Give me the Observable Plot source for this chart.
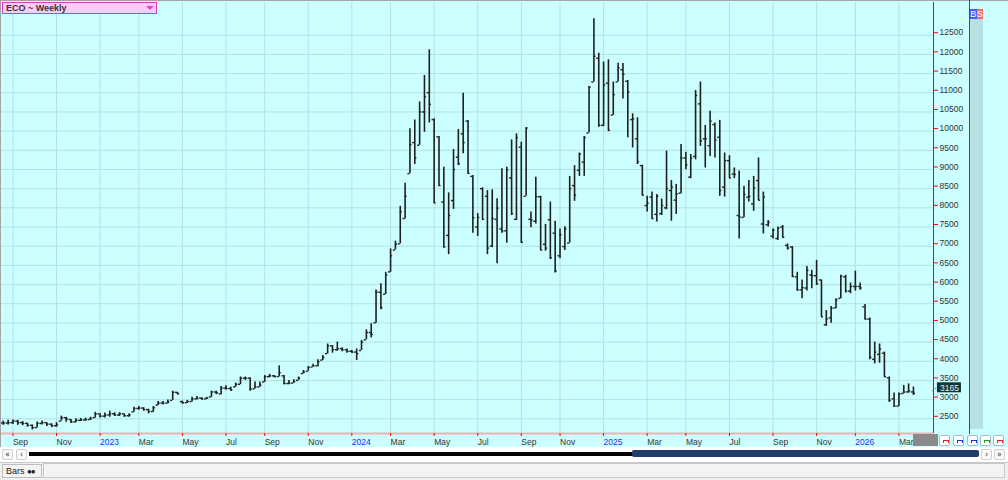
<!DOCTYPE html>
<html><head><meta charset="utf-8">
<script src="https://cdn.jsdelivr.net/npm/d3@7"></script>
<script src="https://cdn.jsdelivr.net/npm/@observablehq/plot@0.6"></script>
<style>
html,body{margin:0;padding:0;background:#fff;}
#root{position:relative;width:1008px;height:480px;overflow:hidden;font-family:"Liberation Sans",Arial,sans-serif;}
#chart{position:absolute;left:0;top:0;width:1008px;height:447px;}
.abs{position:absolute;box-sizing:border-box;}
#topb{left:0;top:0;width:1008px;height:1px;background:#a4a4a4;}
#leftb{left:0;top:0;width:1px;height:447px;background:#a4a4a4;}
#title{left:2px;top:2px;width:155px;height:12px;background:#f5cef8;border:1px solid #c844c8;font:bold 9px "Liberation Sans",Arial,sans-serif;color:#333;line-height:10px;padding-left:3px;}
#tri{right:2px;top:3px;width:0;height:0;border-left:4px solid transparent;border-right:4px solid transparent;border-top:4px solid #e040e0;}
#rline2{left:969px;top:0;width:1px;height:434px;background:#ff0000;}
#strip{left:970px;top:19px;width:13px;height:410px;background:#b8e2e2;}
#bs{left:970px;top:9px;height:10px;font:9px "Liberation Sans",Arial,sans-serif;line-height:10px;color:#fff;display:flex;}
#bs span{display:block;width:6.5px;text-align:center;}
#graybox{left:913px;top:434px;width:25px;height:12px;background:#8a8a8a;}
.icon{top:435px;width:11px;height:11px;background:#fff;border:1px solid #a9b9c9;border-radius:2px;}
.icon i{position:absolute;left:3px;top:4px;width:4px;height:2px;border:1px solid;border-bottom:none;}
#scroll{left:0;top:447px;width:1008px;height:15px;background:#fff;}
.sbtn{top:449px;width:11px;height:11px;border:1px solid #cfcfcf;border-radius:2px;background:#fafafa;font:8px "DejaVu Sans",sans-serif;line-height:9px;text-align:center;color:#333;}
#blk{left:29px;top:452px;width:604px;height:4px;background:#000;}
#blu{left:632px;top:450px;width:347px;height:7px;background:#1f3d6b;border-radius:2px;}
#status{left:0;top:462px;width:1008px;height:18px;background:#f0f0f0;border-top:1px solid #c8c8c8;}
#barsbox{left:2px;top:464px;width:40px;height:14px;border:1px solid #bdbdbd;background:#f4f4f4;font:9px "Liberation Sans",Arial,sans-serif;line-height:12px;padding-left:3px;color:#222;}
#field{left:43px;top:463px;width:962px;height:15px;border:1px solid #c8c8c8;background:#f3f3f3;}
</style></head>
<body>
<div id="root">
  <div id="chart"></div>
  <div class="abs" id="topb"></div>
  <div class="abs" id="leftb"></div>
  <div class="abs" id="title">ECO ~ Weekly<div class="abs" id="tri"></div></div>
  <div class="abs" id="rline2"></div>
  <div class="abs" id="strip"></div>
  <div class="abs" id="bs"><span style="background:#4a5cff">B</span><span style="background:#ee6a6a">S</span></div>
  <div class="abs" id="graybox"></div>
  <div class="abs icon" style="left:939px"><i style="color:#e02020"></i></div>
  <div class="abs icon" style="left:953px"><i style="color:#2030e0"></i></div>
  <div class="abs icon" style="left:967px"><i style="color:#2030e0"></i></div>
  <div class="abs icon" style="left:980px"><i style="color:#20a020"></i></div>
  <div class="abs icon" style="left:993px"><i style="color:#e02020"></i></div>
  <div class="abs" id="scroll"></div>
  <div class="abs sbtn" style="left:2px">&laquo;</div>
  <div class="abs sbtn" style="left:16px">&lsaquo;</div>
  <div class="abs" id="blk"></div>
  <div class="abs" id="blu"></div>
  <div class="abs sbtn" style="left:981px">&rsaquo;</div>
  <div class="abs sbtn" style="left:994px">&raquo;</div>
  <div class="abs" id="status"></div>
  <div class="abs" id="barsbox">Bars <span style="font-size:8px;letter-spacing:-1px">&#9679;&#9679;</span></div>
  <div class="abs" id="field"></div>
</div>
<script>
// Weekly bars, first week ending 2022-08-19
const firstWeek = "2022-08-19";
const openP = [2390,2390,2400,2440,2400,2380,2330,2270,2380,2400,2360,2320,2440,2530,2480,2420,2460,2470,2480,2530,
2630,2570,2600,2630,2600,2630,2580,2680,2770,2780,2740,2690,2860,2910,2910,2980,3190,2950,2920,2950,
3020,3040,3020,3070,3200,3150,3300,3290,3330,3400,3560,3560,3280,3330,3460,3600,3620,3600,3620,3420,
3430,3500,3680,3740,3850,3880,4030,4200,4400,4300,4330,4300,4260,4240,4280,4560,4750,5000,5800,5750,
6330,6900,7060,7720,8890,9700,9630,10500,11000,10300,9850,8150,7280,8190,9320,9930,10260,8820,7500,8500,
8300,7000,7700,7450,7400,8780,7700,9580,8300,7700,7650,8290,7050,7690,7340,6750,6990,7080,8580,8980,
9190,9950,11280,11900,10150,11250,10420,11280,11600,11300,10300,9800,9100,8060,8280,7830,7850,8000,8450,8200,
8380,9300,8800,9340,10710,9800,9620,10170,9840,8540,9230,8880,7800,7750,8280,8100,8710,7580,7560,7260,
7200,7500,7020,6980,6200,5860,5910,6250,6230,6120,4950,5130,5390,5640,6200,5830,5950,5950,5420,5100,
4050,4180,4210,3570,3020,2830,3160,3200,3200];
const highP = [2440,2460,2470,2460,2430,2390,2340,2420,2440,2400,2370,2400,2570,2540,2480,2500,2510,2520,2540,2670,
2630,2650,2700,2660,2660,2630,2630,2800,2820,2790,2750,2820,2950,2950,2990,3220,3190,2960,2980,3060,
3080,3050,3060,3220,3220,3340,3360,3320,3430,3590,3590,3570,3460,3460,3630,3660,3630,3880,3630,3500,
3520,3590,3760,3860,3920,4040,4150,4450,4410,4500,4350,4320,4280,4320,4540,4820,4980,5860,6020,6320,
6930,7130,8040,8640,10060,10290,10760,11450,12120,10320,9860,9060,8390,9520,10040,10990,10280,8840,7850,8520,
8450,8470,8240,9020,9060,9770,9930,9710,10090,7890,8800,8300,7570,8150,7650,7450,7510,8820,9100,9430,
9860,11160,12930,12030,11800,11860,11280,11770,11760,11320,10450,10350,9110,8300,8410,8350,8230,9480,8710,8610,
9650,9450,9390,11060,11280,10150,10520,10210,10280,9430,9360,9040,8960,8560,8710,8820,9300,8410,7670,7450,
7500,7540,7060,6990,6320,6120,6470,6370,6630,6120,5320,5430,5630,6240,6240,6040,6350,6040,5480,5130,
4500,4450,4240,3590,3170,3170,3370,3410,3330];
const lowP = [2330,2340,2350,2330,2320,2280,2210,2260,2340,2300,2270,2280,2440,2410,2380,2400,2430,2440,2460,2520,
2520,2520,2540,2560,2560,2540,2540,2670,2720,2700,2630,2670,2850,2860,2890,2980,3130,2880,2900,2940,
2990,2990,3010,3060,3130,3130,3250,3220,3320,3390,3500,3220,3280,3320,3450,3570,3570,3590,3390,3390,
3430,3500,3670,3740,3850,3860,4020,4190,4210,4260,4250,4210,4210,4020,4280,4560,4610,4990,5340,5740,
6320,6900,7060,7710,8890,9130,9630,9970,10210,8120,8560,6960,6780,7960,9100,9410,8890,7340,7250,7690,
6780,6960,6540,7340,7080,7800,7670,7080,8300,7480,7580,6890,6870,6650,6300,6670,6890,7080,8170,8820,
8820,9950,11280,10100,10120,10000,10410,11280,10840,9830,9560,9130,8320,7890,7710,7630,7800,7950,7650,7830,
8370,8990,8760,9250,9600,9040,9340,9300,8300,8280,8760,8760,7190,7740,8150,7910,8190,7320,7500,7190,
7150,7220,6900,6190,5830,5630,5830,5890,5980,5150,4910,4990,5370,5630,5780,5760,5830,5850,5080,4040,
3930,3950,3590,2930,2800,2820,3150,3170,3110];
const closeP = [2390,2400,2440,2400,2380,2330,2270,2380,2400,2360,2320,2350,2530,2500,2420,2460,2470,2480,2510,2630,
2570,2600,2630,2600,2630,2580,2600,2770,2780,2740,2690,2790,2910,2910,2940,3190,3150,2920,2950,3020,
3040,3020,3040,3200,3180,3300,3290,3250,3400,3560,3560,3280,3330,3380,3600,3620,3600,3700,3420,3430,
3470,3560,3720,3840,3880,3990,4100,4400,4300,4330,4300,4260,4240,4200,4500,4750,4700,5800,5400,6250,
6750,7050,7900,8300,9650,9300,10500,10900,10700,8130,8580,6980,7800,9000,9150,9700,8900,7740,7750,7700,
6950,7720,7990,7400,8990,7850,9830,7100,10080,7680,8290,6900,6950,6700,6350,7300,7450,8500,8330,9400,
9830,11150,11950,10150,11200,10020,10950,11650,11480,11020,10320,9200,8330,8120,7720,8300,8060,8500,8540,8360,
9300,9120,9300,10930,9750,9800,10260,9770,8450,9230,8780,8870,7760,8350,8300,8520,8200,8280,7620,7420,
7470,7230,6950,6210,5860,5920,6370,6230,6020,5160,5100,5380,5600,6220,5830,5950,5950,5910,5100,4100,
4240,4320,3600,2980,2830,3150,3200,3230,3165];
const yTicks = [2500,3000,3500,4000,4500,5000,5500,6000,6500,7000,7500,8000,8500,9000,9500,10000,10500,11000,11500,12000,12500];
const xTickMonths = ["2022-09","2022-11","2023-01","2023-03","2023-05","2023-07","2023-09","2023-11",
"2024-01","2024-03","2024-05","2024-07","2024-09","2024-11","2025-01","2025-03","2025-05","2025-07","2025-09","2025-11","2026-01","2026-03"];
const monthAbbr = ["Jan","Feb","Mar","Apr","May","Jun","Jul","Aug","Sep","Oct","Nov","Dec"];

const start = new Date(firstWeek + "T00:00:00Z");
const bars = closeP.map((c, i) => ({date: d3.utcDay.offset(start, 7 * i), open: openP[i], high: highP[i], low: lowP[i], close: c}));
const xTicks = xTickMonths.map(m => bars.find(b => b.date.toISOString().slice(0, 7) === m).date);
const fmt = d => d.getUTCMonth() === 0 ? String(d.getUTCFullYear()) : monthAbbr[d.getUTCMonth()];
const xDomain = [new Date("2022-08-15T00:00:00Z"), new Date("2026-04-25T00:00:00Z")];
const yDomain = [2117, 13353];
const gridColor = "#b2e2e2";
const barColor = "#1f1f1f";
const last = bars[bars.length - 1];

const chart = Plot.plot({
  width: 1008, height: 447,
  marginLeft: 0, marginRight: 75, marginTop: 2, marginBottom: 14,
  style: {background: "#ccffff", fontFamily: '"Liberation Sans", Arial, sans-serif', fontSize: "8.5px", color: "#333", overflow: "visible"},
  x: {type: "utc", domain: xDomain, label: null},
  y: {type: "linear", domain: yDomain, label: null},
  marks: [
    Plot.ruleY(yTicks, {stroke: gridColor, ariaLabel: "y-grid"}),
    Plot.ruleX(xTicks, {stroke: gridColor, ariaLabel: "x-grid"}),
    Plot.ruleY([yDomain[0]], {stroke: "#e9b3b3", strokeWidth: 2}),
    Plot.ruleX([xDomain[1]], {stroke: "#ff0000"}),
    Plot.ruleX(bars, {x: "date", y1: "low", y2: "high", stroke: barColor, strokeWidth: 1.6}),
    Plot.ruleY(bars, {y: "open", x1: d => d3.utcDay.offset(d.date, -3), x2: "date", stroke: barColor, strokeWidth: 1.4}),
    Plot.ruleY(bars, {y: "close", x1: "date", x2: d => d3.utcDay.offset(d.date, 3), stroke: barColor, strokeWidth: 1.4}),
    Plot.axisY(yTicks, {anchor: "right", tickSize: 4, tickPadding: 2, stroke: "#ff0000", color: "#333", dy: -2.5, tickFormat: d => String(d), label: null}),
    Plot.axisX(xTicks, {anchor: "bottom", tickSize: 3, tickPadding: 2, stroke: "#ff0000", color: "#333", textAnchor: "start", tickFormat: fmt, label: null}),
    Plot.text([last], {x: "date", y: "close", text: d => String(d.close), dx: 36, dy: -5.5, fill: "#e6f2f2", textAnchor: "middle", fontSize: 8.5})
  ]
});
document.getElementById("chart").appendChild(chart);

const svg = d3.select(chart);
svg.selectAll('g[aria-label="y-grid"] line').attr("x2", 969);
svg.selectAll("text").filter(function () { const t = this.textContent; return /^\d{4}$/.test(t) && +t > 2000 && +t < 2100; }).attr("fill", "#2a2aff");

// dark box behind the last-price label, placed through the plot's own scales
const cx = chart.scale("x").apply(last.date) + 36;
const cy = chart.scale("y").apply(last.close) - 5.5;
const lpText = svg.selectAll("text").filter(function () { return this.textContent === String(last.close); }).node();
svg.append("line").attr("x1", cx - 17).attr("y1", cy + 4).attr("x2", cx - 12).attr("y2", cy)
  .attr("stroke", "#555").attr("stroke-dasharray", "1,1");
svg.append("rect").attr("x", cx - 12).attr("y", cy - 5).attr("width", 24).attr("height", 10).attr("fill", "#0e3636");
if (lpText) svg.node().appendChild(lpText.parentNode.tagName === "g" ? lpText.parentNode : lpText);
</script>
</body></html>
